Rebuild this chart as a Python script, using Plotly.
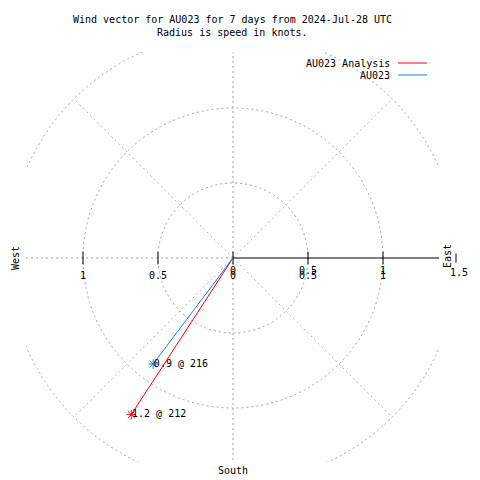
import numpy as np
import plotly.graph_objects as go

# ---- data ----
series_names = ["AU023 Analysis", "AU023"]
speeds = [1.245, 0.885]          # knots (radius)
directions = [213, 217]          # degrees, clockwise from north
point_labels = ["1.2 @ 212", "0.9 @ 216"]
colors = ["#ff0000", "#1a80e6"]

grid_radii = [0.5, 1.0, 1.5]
spoke_angles = [45, 90, 135, 180, 225, 270, 315]   # math angles (deg)
tick_values = [-1, -0.5, 0, 0.5, 1]
tick_values_a = [-1, -0.5, 0, 0.5, 1]
tick_labels_a = ["1", "0.5", "0", "0.5", "1"]
tick_values_b = [0, 0.5, 1]
tick_labels_b = ["0", "0.5", "1"]
outer_tick_value = 1.5
outer_tick_label = "1.5"
title_lines = ["Wind vector for AU023 for 7 days from 2024-Jul-28 UTC",
               "Radius is speed in knots."]

FONT = "DejaVu Sans Mono"
GRID = "#a0a0a0"
GRID_DIAG = "#b8b8b8"

# page offset (body margin) and geometry in reference pixels
OFF = 8
W = H = 472
PL, PR, PT, PB = 26, 439, 52, 462   # plot area in reference pixels
L, T = PL - OFF, PT - OFF
R, B = W - (PR - OFF), H - (PB - OFF)
pw, ph = PR - PL, PB - PT
CX, CY, SCALE = 233, 258, 150.0

def px_x(x): return (x - PL) / pw
def px_y(y): return (PB - y) / ph

fig = go.Figure()

# grid circles and spokes
shapes = []
for r in grid_radii:
    shapes.append(dict(type="circle", xref="x", yref="y", x0=-r, y0=-r, x1=r, y1=r,
                       line=dict(color=GRID, width=1, dash="2px,3px"), layer="below"))
for a in spoke_angles:
    rr = grid_radii[-1]
    col = GRID if a % 90 == 0 else GRID_DIAG
    shapes.append(dict(type="line", xref="x", yref="y", x0=0, y0=0,
                       x1=rr * np.cos(np.radians(a)), y1=rr * np.sin(np.radians(a)),
                       line=dict(color=col, width=1, dash="2px,3px"), layer="below"))
# solid radial axis
shapes.append(dict(type="line", xref="x", yref="y", x0=0, y0=0, x1=grid_radii[-1], y1=0,
                   line=dict(color="black", width=1), layer="below"))

# tick marks
fig.add_trace(go.Scatter(x=tick_values, y=[0] * len(tick_values), mode="markers",
                         marker=dict(symbol="line-ns-open", size=9, color="black",
                                     line=dict(color="black", width=1)),
                         cliponaxis=False, hoverinfo="skip", showlegend=False))
# tick labels
fig.add_trace(go.Scatter(x=tick_values_a, y=[-0.12] * len(tick_values_a), mode="text",
                         text=tick_labels_a, textposition="middle center",
                         textfont=dict(family=FONT, size=10, color="black"),
                         cliponaxis=False, hoverinfo="skip", showlegend=False))
fig.add_trace(go.Scatter(x=tick_values_b, y=[-0.087] * len(tick_values_b), mode="text",
                         text=tick_labels_b, textposition="middle center",
                         textfont=dict(family=FONT, size=10, color="black"),
                         cliponaxis=False, hoverinfo="skip", showlegend=False))

# vectors
for name, s, d, lab, c in zip(series_names, speeds, directions, point_labels, colors):
    x = s * np.sin(np.radians(d))
    y = s * np.cos(np.radians(d))
    fig.add_trace(go.Scatter(x=[0, x], y=[0, y], mode="lines",
                             line=dict(color=c, width=1), name=name,
                             hoverinfo="skip", showlegend=False))
    fig.add_trace(go.Scatter(x=[x], y=[y], mode="markers",
                             marker=dict(symbol="asterisk-open", size=8, color=c,
                                         line=dict(color=c, width=1)),
                             hoverinfo="skip", showlegend=False))
    fig.add_trace(go.Scatter(x=[x + 0.005], y=[y], mode="text", text=[lab],
                             textposition="middle right",
                             textfont=dict(family=FONT, size=10, color="black"),
                             cliponaxis=False, hoverinfo="skip", showlegend=False))

annotations = []
def txt(text, x, y, xanchor="center", angle=0):
    annotations.append(dict(text=text, xref="paper", yref="paper", x=px_x(x),
                            y=px_y(y), showarrow=False, xanchor=xanchor,
                            yanchor="middle", textangle=angle,
                            font=dict(family=FONT, size=10, color="black")))

# title
for i, t in enumerate(title_lines):
    txt(t, 232, 20 + 13 * i)
# legend
for i, (name, c) in enumerate(zip(series_names, colors)):
    yy = 63 + 12 * i
    txt(name, 392, yy, xanchor="right")
    shapes.append(dict(type="line", xref="paper", yref="paper", x0=px_x(398),
                       x1=px_x(427), y0=px_y(yy), y1=px_y(yy),
                       line=dict(color=c, width=1)))
# outer radial tick (lies beyond the clipped plot area)
ox = CX + outer_tick_value * SCALE
shapes.append(dict(type="line", xref="paper", yref="paper", x0=px_x(ox - 2),
                   x1=px_x(ox - 2), y0=px_y(CY - 4.5), y1=px_y(CY + 4.5),
                   line=dict(color="black", width=1)))
txt(outer_tick_label, ox + 1, 272)
# compass labels
txt("West", 15, 258, angle=-90)
txt("East", 447, 256, angle=-90)
txt("South", 233, 470)

fig.update_layout(
    width=W, height=H,
    margin=dict(l=L, r=R, t=T, b=B),
    paper_bgcolor="white", plot_bgcolor="white",
    shapes=shapes, annotations=annotations, showlegend=False,
    xaxis=dict(range=[(PL - CX) / SCALE, (PR - CX) / SCALE], showgrid=False,
               zeroline=False, showticklabels=False, ticks="", showline=False,
               fixedrange=True),
    yaxis=dict(range=[(CY - PB) / SCALE, (CY - PT) / SCALE], showgrid=False,
               zeroline=False, showticklabels=False, ticks="", showline=False,
               fixedrange=True),
)

fig.write_html("out.html")
